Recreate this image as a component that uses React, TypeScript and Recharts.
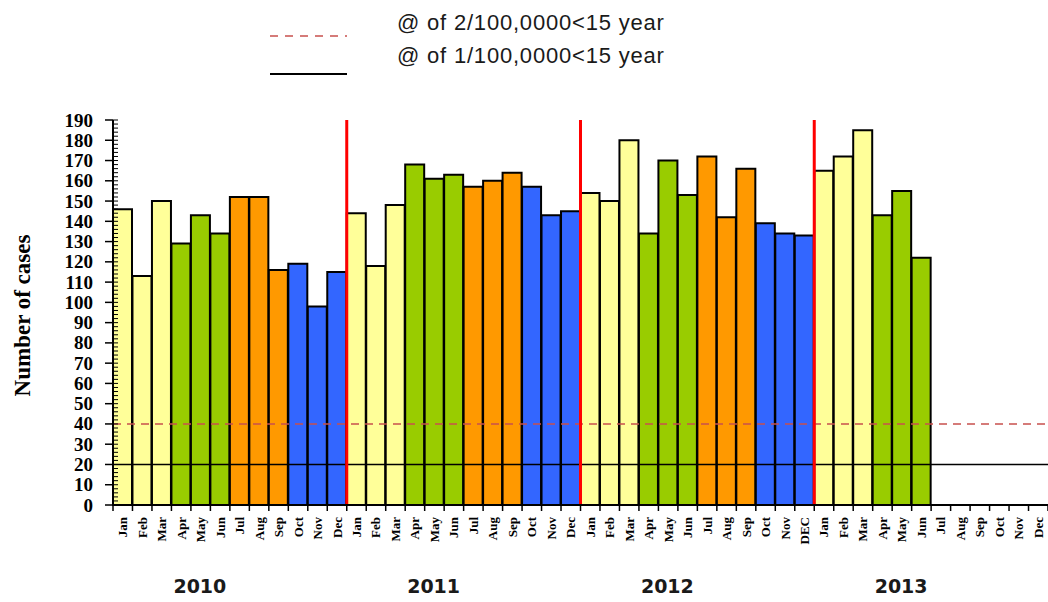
import React from 'react';
import { BarChart, Bar, Cell, XAxis, YAxis, ReferenceLine } from 'recharts';

// ---- data ----
const monthLabels2010 = ['Jan', 'Feb', 'Mar', 'Apr', 'May', 'Jun', 'Jul', 'Aug', 'Sep', 'Oct', 'Nov', 'Dec'];
const monthLabels2011 = ['Jan', 'Feb', 'Mar', 'Apr', 'May', 'Jun', 'Jul', 'Aug', 'Sep', 'Oct', 'Nov', 'Dec'];
const monthLabels2012 = ['Jan', 'Feb', 'Mar', 'Apr', 'May', 'Jun', 'Jul', 'Aug', 'Sep', 'Oct', 'Nov', 'DEC'];
const monthLabels2013 = ['Jan', 'Feb', 'Mar', 'Apr', 'May', 'Jun', 'Jul', 'Aug', 'Sep', 'Oct', 'Nov', 'Dec'];

const cases2010 = [146, 113, 150, 129, 143, 134, 152, 152, 116, 119, 98, 115];
const cases2011 = [144, 118, 148, 168, 161, 163, 157, 160, 164, 157, 143, 145];
const cases2012 = [154, 150, 180, 134, 170, 153, 172, 142, 166, 139, 134, 133];
const cases2013 = [165, 172, 185, 143, 155, 122, null, null, null, null, null, null];

const years = ['2010', '2011', '2012', '2013'];
const seasonColors = ['#FFFF99', '#99CC00', '#FF9900', '#3366FF'];

const yMajorTicks = [0, 10, 20, 30, 40, 50, 60, 70, 80, 90, 100, 110, 120, 130, 140, 150, 160, 170, 180, 190];
const yMinorStep = 2;
const yearStartIds = ['2011-0', '2012-0', '2013-0'];

const threshold2 = 40; // 2/100,000 <15 year
const threshold1 = 20; // 1/100,000 <15 year

const legendItems = [
  { label: '@ of 2/100,0000<15 year', color: '#C8504D', dashed: true },
  { label: '@ of 1/100,0000<15 year', color: '#000000', dashed: false },
];

const yLabel = 'Number of cases';

// ---- derived table ----
const allLabels = [...monthLabels2010, ...monthLabels2011, ...monthLabels2012, ...monthLabels2013];
const allValues = [...cases2010, ...cases2011, ...cases2012, ...cases2013];
const data = allLabels.map((m, i) => ({
  id: `${years[Math.floor(i / 12)]}-${i % 12}`,
  month: m,
  value: allValues[i],
}));
const rowById: Record<string, { idx: number; month: string }> = {};
data.forEach((d, i) => (rowById[d.id] = { idx: i, month: d.month }));

const yAllTicks: number[] = [];
for (let v = 0; v <= 190; v += yMinorStep) yAllTicks.push(v);

const Y_TICK_SIZE = 8;
const Y_TICK_MARGIN = 12;
const X_TICK_SIZE = 6;
const X_TICK_MARGIN = 6;

const YTick = (props: any) => {
  const { x, y, payload } = props;
  const v = payload.value as number;
  const ax = x + Y_TICK_SIZE + Y_TICK_MARGIN;
  const major = yMajorTicks.includes(v);
  return (
    <g>
      <line x1={ax} x2={ax + 5} y1={y} y2={y} stroke="#000" strokeWidth={1} />
      {major && <line x1={ax - Y_TICK_SIZE} x2={ax} y1={y} y2={y} stroke="#000" strokeWidth={1.5} />}
      {major && (
        <text
          x={x}
          y={y}
          textAnchor="end"
          dominantBaseline="central"
          fontFamily="'Liberation Serif', serif"
          fontWeight="bold"
          fontSize={19}
          fill="#000"
        >
          {v}
        </text>
      )}
    </g>
  );
};

const MonthTick = (props: any) => {
  const { x, y, payload } = props;
  const row = rowById[payload.value];
  if (!row) return <g />;
  const half = payload.offset ?? 9.75;
  const axisY = y - X_TICK_SIZE - X_TICK_MARGIN;
  const isLast = row.idx === data.length - 1;
  const showYear = row.idx % 12 === 5;
  return (
    <g>
      <line x1={x - half} x2={x - half} y1={axisY} y2={axisY + 6} stroke="#000" strokeWidth={1.5} />
      {isLast && <line x1={x + half} x2={x + half} y1={axisY} y2={axisY + 6} stroke="#000" strokeWidth={1.5} />}
      <text
        x={x}
        y={y}
        transform={`rotate(-90, ${x}, ${y})`}
        textAnchor="end"
        dominantBaseline="central"
        fontFamily="'Liberation Serif', serif"
        fontWeight="bold"
        fontSize={13}
        fill="#000"
      >
        {row.month}
      </text>
      {showYear && (
        <text
          x={x + half - 30}
          y={axisY + 81}
          textAnchor="middle"
          dominantBaseline="central"
          fontFamily="'DejaVu Sans', sans-serif"
          fontWeight="bold"
          fontSize={19}
          fill="#1a1a1a"
        >
          {years[Math.floor(row.idx / 12)]}
        </text>
      )}
    </g>
  );
};

const YLabel = (props: any) => {
  const vb = props.viewBox || { x: 0, y: 120, width: 113, height: 385 };
  const cx = vb.x + 22;
  const cy = vb.y + vb.height / 2 + 3;
  return (
    <text
      x={cx}
      y={cy}
      transform={`rotate(-90, ${cx}, ${cy})`}
      textAnchor="middle"
      dominantBaseline="central"
      fontFamily="'Liberation Serif', serif"
      fontWeight="bold"
      fontSize={23}
      fill="#000"
    >
      {yLabel}
    </text>
  );
};

const Legend = () => (
  <svg width={1048} height={100} style={{ position: 'absolute', left: 0, top: 0, pointerEvents: 'none' }}>
    {legendItems.map((it, i) => {
      const lineY = i === 0 ? 36 : 74;
      const textY = i === 0 ? 22 : 55;
      return (
        <g key={it.label}>
          <line
            x1={270}
            x2={347}
            y1={lineY}
            y2={lineY}
            stroke={it.color}
            strokeWidth={it.dashed ? 1.5 : 2}
            strokeDasharray={it.dashed ? '8 7' : undefined}
          />
          <text
            x={397}
            y={textY}
            dominantBaseline="central"
            fontFamily="'Liberation Sans', sans-serif"
            fontSize={22}
            letterSpacing={0.8}
            fill="#1a1a1a"
          >
            {it.label}
          </text>
        </g>
      );
    })}
  </svg>
);

export default function App() {
  return (
    <div style={{ position: 'absolute', left: 0, top: 0, width: 1048, height: 602, background: '#fff' }}>
      <BarChart
        width={1048}
        height={602}
        data={data}
        margin={{ top: 120, right: 0, bottom: 96, left: 0 }}
        barCategoryGap={0}
        barGap={0}
      >
        <XAxis
          xAxisId="cat"
          dataKey="id"
          type="category"
          height={1}
          interval={0}
          axisLine={{ stroke: '#000', strokeWidth: 2 }}
          tickLine={false}
          tickSize={X_TICK_SIZE}
          tickMargin={X_TICK_MARGIN}
          tick={<MonthTick />}
        />
        <YAxis
          yAxisId="y"
          type="number"
          domain={[0, 190]}
          ticks={yAllTicks}
          interval={0}
          width={113}
          tickSize={Y_TICK_SIZE}
          tickMargin={Y_TICK_MARGIN}
          tickLine={false}
          axisLine={{ stroke: '#000', strokeWidth: 2 }}
          tick={<YTick />}
          label={<YLabel />}
        />
        <Bar
          dataKey="value"
          xAxisId="cat"
          yAxisId="y"
          isAnimationActive={false}
          stroke="#000"
          strokeWidth={2}
        >
          {data.map((d, i) => (
            <Cell key={d.id} fill={seasonColors[Math.floor((i % 12) / 3)]} />
          ))}
        </Bar>
        <ReferenceLine
          xAxisId="cat"
          yAxisId="y"
          y={threshold2}
          stroke="#C8504D"
          strokeWidth={1.5}
          strokeDasharray="8 6"
        />
        <ReferenceLine xAxisId="cat" yAxisId="y" y={threshold1} stroke="#000" strokeWidth={1.5} />
        {yearStartIds.map((id) => (
          <ReferenceLine
            key={id}
            xAxisId="cat"
            yAxisId="y"
            x={id}
            position="start"
            stroke="#FF0000"
            strokeWidth={3}
          />
        ))}
      </BarChart>
      <Legend />
    </div>
  );
}
